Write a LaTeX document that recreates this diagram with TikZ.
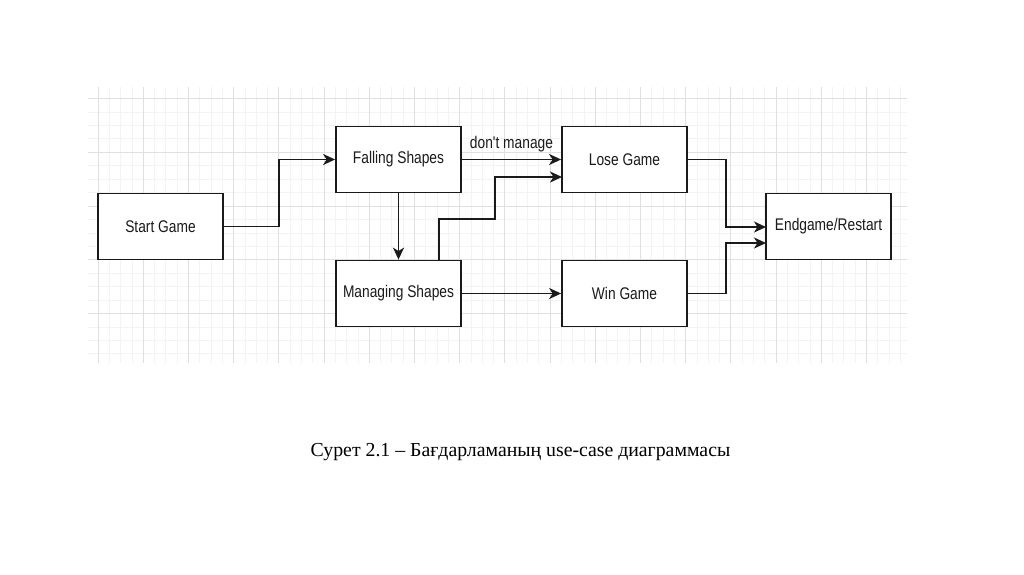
\documentclass[tikz,border=0pt]{standalone}
\usepackage{fontspec}
\usepackage{graphicx}
\setmainfont{Liberation Sans}
\newfontfamily\capfont{Liberation Serif}
\usetikzlibrary{arrows.meta}
\definecolor{ink}{HTML}{1A1A1A}
\definecolor{gridmajor}{HTML}{E0E0E0}
\definecolor{gridminor}{HTML}{F3F3F3}
\newcommand{\bt}[1]{\scalebox{1.02}[1.25]{#1}}
\tikzset{
  box/.style={draw=ink, line width=1.8pt, fill=white, minimum width=125pt, minimum height=66pt, inner sep=0pt, font=\fontsize{13.5}{15}\selectfont, text=ink},
  conn/.style={draw=ink, line width=1.8pt, -{Stealth[length=12pt,width=11pt,inset=3.5pt]}},
}
\begin{document}
\begin{tikzpicture}[x=1pt,y=-1pt]
\useasboundingbox (0,0) rectangle (1024,574);
\fill[white] (0,0) rectangle (1024,574);
% grid
\begin{scope}
\clip (88,87) rectangle (907,363);
\foreach \i in {-1,...,73}{
  \pgfmathsetmacro{\xx}{98+\i*11.3}
  \draw[gridminor, line width=0.8pt] (\xx,87) -- (\xx,363);
}
\foreach \j in {-1,...,21}{
  \pgfmathsetmacro{\yy}{98.5+\j*13.44}
  \draw[gridminor, line width=0.8pt] (88,\yy) -- (907,\yy);
}
\foreach \i in {0,...,18}{
  \pgfmathsetmacro{\xx}{98+\i*45.2}
  \draw[gridmajor, line width=1pt] (\xx,87) -- (\xx,363);
}
\foreach \j in {0,...,5}{
  \pgfmathsetmacro{\yy}{98.5+\j*53.75}
  \draw[gridmajor, line width=1pt] (88,\yy) -- (907,\yy);
}
\end{scope}
% nodes
\node[box] (start) at (160.5,226.5) {\bt{Start Game}};
\node[box] (fall) at (398.5,159.5) {\bt{Falling Shapes}};
\node[box] (lose) at (624.5,159.5) {\bt{Lose Game}};
\node[box] (manage) at (398.5,293.5) {\bt{Managing Shapes}};
\node[box] (win) at (624.5,293.5) {\bt{Win Game}};
\node[box] (end) at (828.5,226.5) {\bt{Endgame/Restart}};
% connectors
\draw[conn] (start.east) -- (279,226.5) -- (279,159.5) -- (fall.west);
\draw[conn] (fall.east) -- node[above=3pt, font=\fontsize{13.5}{15}\selectfont, text=ink] {\bt{don\textquotesingle t manage}} (lose.west);
\draw[conn] (fall.south) -- (manage.north);
\coordinate (mtop) at (439,260.5);
\draw[conn] (mtop) -- (439,219) -- (495,219) -- (495,177) -- (562,177);
\draw[conn] (manage.east) -- (win.west);
\draw[conn] (lose.east) -- (726,159.5) -- (726,227) -- (766,227);
\draw[conn] (win.east) -- (726,293.5) -- (726,243) -- (766,243);
% caption
\node[font=\capfont\fontsize{19.8}{22}\selectfont, anchor=base, text=black] (cap) at (520.5,456) {Сурет 2.1 – Бағдарламаның use-case диаграммасы};
\end{tikzpicture}
\end{document}
